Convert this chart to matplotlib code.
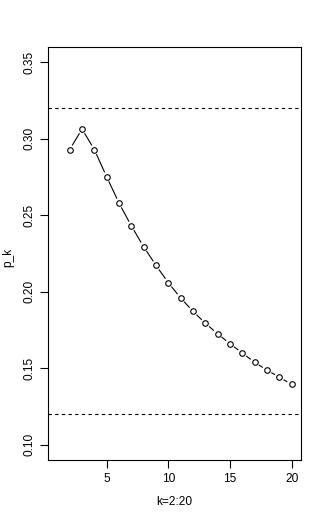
import matplotlib
matplotlib.use("Agg")
from matplotlib import pyplot as plt
import numpy as np

k = list(range(2, 21))
p_k = [0.2929, 0.3064, 0.2929, 0.2751, 0.2580, 0.2430, 0.2294, 0.2172, 0.2059,
       0.1959, 0.1872, 0.1794, 0.1725, 0.1660, 0.1600, 0.1538, 0.1488, 0.1441, 0.1395]
hlines = [0.32, 0.12]
xticks = [5, 10, 15, 20]
yticks = [0.10, 0.15, 0.20, 0.25, 0.30, 0.35]

plt.rcParams['font.family'] = ['Liberation Sans', 'DejaVu Sans']

fig = plt.figure(figsize=(3.25, 5.2), dpi=100)
ax = fig.add_axes([48 / 325, 60 / 520, 253 / 325, 413 / 520])

# R-style 4% padding around xlim=c(1,20), ylim=c(0.1,0.35)
ax.set_xlim(1 - 0.76, 20 + 0.76)
ax.set_ylim(0.1 - 0.01, 0.35 + 0.01)

for h in hlines:
    ax.axhline(h, color='black', lw=0.8, linestyle=(0, (3, 3)))

ax.plot(k, p_k, linestyle='none', marker='o', markersize=4.0,
        markerfacecolor='white', markeredgecolor='black', markeredgewidth=0.8, zorder=3)

# type="b": segments between points with a gap around each marker
pts = ax.transData.transform(np.column_stack([k, p_k]))
gap = 5.5
inv = ax.transData.inverted()
for a, b in zip(pts[:-1], pts[1:]):
    d = b - a
    n = np.hypot(*d)
    if n <= 2 * gap:
        continue
    u = d / n
    seg = inv.transform(np.array([a + u * gap, b - u * gap]))
    ax.plot(seg[:, 0], seg[:, 1], color='black', lw=0.8)

ax.set_xticks(xticks)
ax.set_yticks(yticks)
ax.set_yticklabels([f"{v:.2f}" for v in yticks], rotation=90, va='center')
ax.tick_params(direction='out', length=5.5, width=0.8, labelsize=8.6)
ax.tick_params(axis='x', pad=4)
ax.tick_params(axis='y', pad=3.5)
for s in ax.spines.values():
    s.set_linewidth(0.8)

ax.set_xlabel("k=2:20", fontsize=8.6, va='center')
ax.xaxis.set_label_coords(0.5, -42 / 413)
ax.set_ylabel("p_k", fontsize=8.6, va='center')
ax.yaxis.set_label_coords(-40 / 253, 0.49)

plt.savefig("out.png", dpi=100)
plt.close()
